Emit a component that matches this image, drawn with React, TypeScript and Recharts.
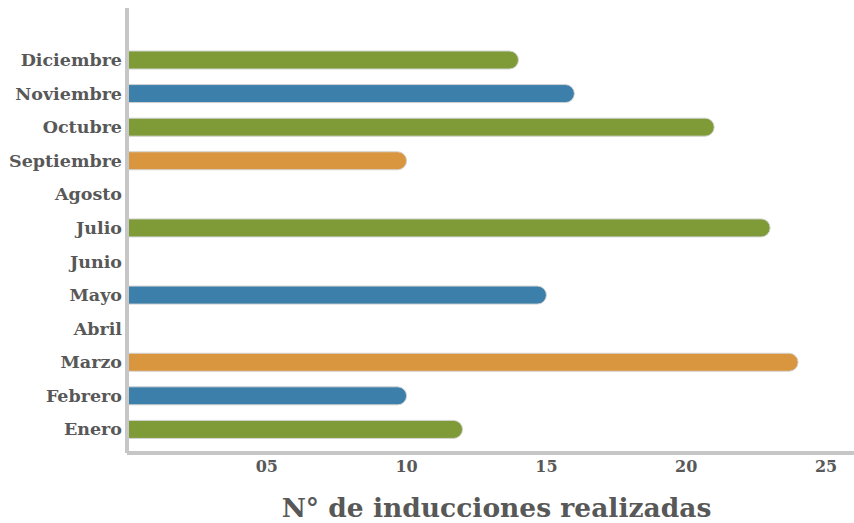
import React from 'react';
import { BarChart, Bar, XAxis, YAxis, Cell, Label } from 'recharts';

const MONTHS = [
  'Enero', 'Febrero', 'Marzo', 'Abril', 'Mayo', 'Junio',
  'Julio', 'Agosto', 'Septiembre', 'Octubre', 'Noviembre', 'Diciembre',
];
const INDUCCIONES: (number | null)[] = [12, 10, 24, null, 15, null, 23, null, 10, 21, 16, 14];
const X_TICKS = [5, 10, 15, 20, 25];

const GREEN = '#7e9b38';
const BLUE = '#3b7faa';
const ORANGE = '#da963f';
const BAR_COLORS = [GREEN, BLUE, ORANGE, GREEN, BLUE, GREEN, GREEN, GREEN, ORANGE, GREEN, BLUE, GREEN];

const FONT = '"DejaVu Serif", serif';
const TEXT = '#585858';

export default function App() {
  const data = MONTHS.map((mes, i) => ({ mes, valor: INDUCCIONES[i] }));

  return (
    <div style={{ position: 'absolute', left: 0, top: 0, background: '#fff' }}>
      <BarChart
        width={854}
        height={523}
        data={data}
        layout="vertical"
        margin={{ top: 8, right: 0, bottom: 0, left: 0 }}
      >
        <XAxis
          type="number"
          domain={[0, 26]}
          ticks={X_TICKS}
          tickFormatter={(v: number) => String(v).padStart(2, '0')}
          tickLine={false}
          axisLine={{ stroke: '#c6c6c6', strokeWidth: 4 }}
          tick={{ fill: TEXT, fontFamily: FONT, fontWeight: 700, fontSize: 16 }}
          height={70}
        >
          <Label
            value="N° de inducciones realizadas"
            position="insideBottom"
            offset={6}
            dx={6}
            style={{ fill: TEXT, fontFamily: FONT, fontWeight: 700, fontSize: 26.5 }}
          />
        </XAxis>
        <YAxis
          type="category"
          dataKey="mes"
          reversed
          width={127}
          padding={{ top: 35, bottom: 7 }}
          tickLine={false}
          tickSize={3}
          tickMargin={2}
          axisLine={{ stroke: '#c6c6c6', strokeWidth: 4 }}
          tick={{ fill: TEXT, fontFamily: FONT, fontWeight: 700, fontSize: 17.5 }}
          interval={0}
        />
        <Bar
          dataKey="valor"
          barSize={18}
          radius={[0, 9, 9, 0]}
          stroke="#d2d2d2"
          strokeWidth={1}
          isAnimationActive={false}
        >
          {data.map((d, i) => (
            <Cell key={d.mes} fill={BAR_COLORS[i]} />
          ))}
        </Bar>
      </BarChart>
    </div>
  );
}
